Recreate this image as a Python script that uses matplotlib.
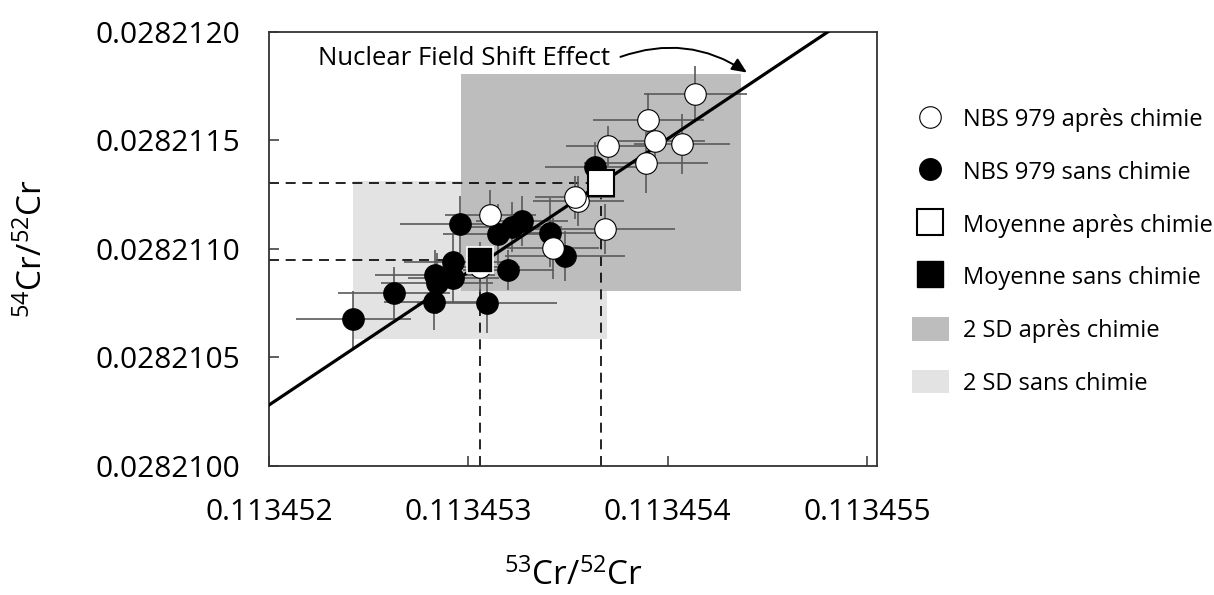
import numpy as np
import matplotlib
matplotlib.use("Agg")
from matplotlib import pyplot as plt
from matplotlib.lines import Line2D
from matplotlib.patches import Patch, Rectangle

plt.rcParams['font.family'] = ['Open Sans', 'DejaVu Sans']
plt.rcParams['mathtext.fontset'] = 'custom'
plt.rcParams['mathtext.rm'] = 'Open Sans'
plt.rcParams['mathtext.default'] = 'regular'

# NBS 979 apres chimie (white circles)
apres_x = [0.1134541392, 0.1134539033, 0.1134539370, 0.1134540709, 0.1134536996, 0.1134538918,
           0.1134535521, 0.1134535355, 0.1134536860, 0.1134531105, 0.1134534236, 0.1134530588]
apres_y = [0.0282117129, 0.0282115931, 0.0282114963, 0.0282114825, 0.0282114733, 0.0282113964,
           0.0282112212, 0.0282112369, 0.0282110895, 0.0282111554, 0.0282110019, 0.0282109157]
apres_xerr = [2.6e-7, 2.8e-7, 2.5e-7, 2.4e-7, 2.1e-7, 3.1e-7, 2.3e-7, 2.0e-7, 3.5e-7, 2.3e-7, 2.3e-7, 2.0e-7]
apres_yerr = [1.3e-7, 1.25e-7, 0.9e-7, 1.4e-7, 0.9e-7, 1.4e-7, 1.15e-7, 1.0e-7, 1.15e-7, 1.15e-7, 1.4e-7, 1.15e-7]

# NBS 979 sans chimie (black circles)
sans_x = [0.1134536359, 0.1134529584, 0.1134531506, 0.1134532179, 0.1134532680, 0.1134534101,
          0.1134534853, 0.1134532008, 0.1134530924, 0.1134529248, 0.1134528330, 0.1134528415,
          0.1134529248, 0.1134528280, 0.1134526273, 0.1134524230]
sans_y = [0.0282113779, 0.0282111125, 0.0282110664, 0.0282111014, 0.0282111277, 0.0282110738,
          0.0282109678, 0.0282109019, 0.0282107512, 0.0282109402, 0.0282108789, 0.0282108406,
          0.0282108637, 0.0282107558, 0.0282107945, 0.0282106747]
sans_xerr = [2.5e-7, 3.0e-7, 2.8e-7, 2.5e-7, 2.3e-7, 2.8e-7, 3.0e-7, 2.3e-7, 3.5e-7, 2.5e-7,
             3.0e-7, 2.8e-7, 2.3e-7, 2.5e-7, 2.8e-7, 2.9e-7]
sans_yerr = [1.15e-7, 1.3e-7, 1.4e-7, 1.15e-7, 1.15e-7, 1.6e-7, 1.15e-7, 0.9e-7, 1.4e-7, 1.3e-7,
             1.15e-7, 1.4e-7, 1.15e-7, 1.3e-7, 1.2e-7, 1.3e-7]

# means and 2 SD
mean_apres = (0.1134536645, 0.0282113042)
mean_sans = (0.1134530588, 0.0282109480)
sd2_apres = (0.7025e-6, 0.5e-6)
sd2_sans = (0.6373e-6, 0.3663e-6)

# nuclear field shift line
nfs_x = [0.1134520000, 0.1134548048]
nfs_y = [0.0282102797, 0.0282120000]

xticks = [0.113452, 0.113453, 0.113454, 0.113455]
yticks = [0.0282100, 0.0282105, 0.0282110, 0.0282115, 0.0282120]

fig = plt.figure(figsize=(12.14, 5.95), dpi=100)
ax = fig.add_axes([0.2216, 0.2173, 0.5008, 0.7294])
ax.set_xlim(0.113452, 0.11345505)
ax.set_ylim(0.0282100, 0.0282120)

dark = '#bdbdbd'
light = '#e3e3e3'
ax.add_patch(Rectangle((mean_sans[0] - sd2_sans[0], mean_sans[1] - sd2_sans[1]),
                       2 * sd2_sans[0], 2 * sd2_sans[1], color=light, lw=0, zorder=1))
ax.add_patch(Rectangle((mean_apres[0] - sd2_apres[0], mean_apres[1] - sd2_apres[1]),
                       2 * sd2_apres[0], 2 * sd2_apres[1], color=dark, lw=0, zorder=1.1))

# dashed guides to the means
for mx, my in [mean_apres, mean_sans]:
    ax.plot([0.113452, mx], [my, my], ls=(0, (6, 4)), color='black', lw=1.2, zorder=2)
    ax.plot([mx, mx], [0.0282100, my], ls=(0, (6, 4)), color='black', lw=1.2, zorder=2)

ax.errorbar(sans_x, sans_y, xerr=sans_xerr, yerr=sans_yerr, fmt='none',
            ecolor='#5a5a5a', elinewidth=1.2, capsize=0, zorder=3)
ax.errorbar(apres_x, apres_y, xerr=apres_xerr, yerr=apres_yerr, fmt='none',
            ecolor='#5a5a5a', elinewidth=1.2, capsize=0, zorder=3)

ax.plot(nfs_x, nfs_y, color='black', lw=2.3, zorder=4)

ax.plot(sans_x, sans_y, 'o', ms=15.5, mfc='black', mec='black', mew=0.8, ls='none', zorder=5)
ax.plot(apres_x, apres_y, 'o', ms=15.5, mfc='white', mec='black', mew=0.8, ls='none', zorder=6)
ax.plot(*mean_sans, 's', ms=19, mfc='black', mec='white', mew=1.2, zorder=7)
ax.plot(*mean_apres, 's', ms=19, mfc='white', mec='black', mew=1.5, zorder=7)

ax.text(0.081, 0.939, 'Nuclear Field Shift Effect', transform=ax.transAxes,
        fontsize=18.5, ha='left', va='center', zorder=8)
ax.annotate('', xy=(0.786, 0.906), xytext=(0.578, 0.942),
            xycoords='axes fraction', textcoords='axes fraction',
            arrowprops=dict(arrowstyle='-|>,head_length=0.9,head_width=0.4', color='black',
                            lw=1.4, connectionstyle='arc3,rad=-0.25', shrinkA=0, shrinkB=0))

ax.set_xticks(xticks)
ax.set_xticklabels(['%.6f' % v for v in xticks])
ax.set_yticks(yticks)
ax.set_yticklabels(['%.7f' % v for v in yticks])
ax.tick_params(direction='in', length=7, width=1.1, labelsize=21.5, color='#333333')
ax.tick_params(axis='y', pad=21)
ax.tick_params(axis='x', pad=23)
for s in ax.spines.values():
    s.set_linewidth(1.3)
    s.set_color('#333333')

ax.set_xlabel(r'$^{53}$Cr/$^{52}$Cr', fontsize=24)
ax.set_ylabel(r'$^{54}$Cr/$^{52}$Cr', fontsize=24)
ax.xaxis.set_label_coords(0.5, -0.214)
ax.yaxis.set_label_coords(-0.36, 0.5)

handles = [
    Line2D([], [], marker='o', ms=15.5, mfc='white', mec='black', mew=0.8, ls='none'),
    Line2D([], [], marker='o', ms=15.5, mfc='black', mec='black', ls='none'),
    Line2D([], [], marker='s', ms=19, mfc='white', mec='black', mew=1.5, ls='none'),
    Line2D([], [], marker='s', ms=19, mfc='black', mec='black', ls='none'),
    Patch(facecolor=dark, edgecolor='none'),
    Patch(facecolor=light, edgecolor='none'),
]
labels = ['NBS 979 après chimie', 'NBS 979 sans chimie', 'Moyenne après chimie',
          'Moyenne sans chimie', '2 SD après chimie', '2 SD sans chimie']
fig.legend(handles, labels, loc='upper left', bbox_to_anchor=(0.7512, 0.8207),
           frameon=False, fontsize=17, handlelength=1.55, handleheight=1.15,
           handletextpad=0.6, labelspacing=1.14, borderpad=0, borderaxespad=0)

fig.savefig('out.png', dpi=100)
